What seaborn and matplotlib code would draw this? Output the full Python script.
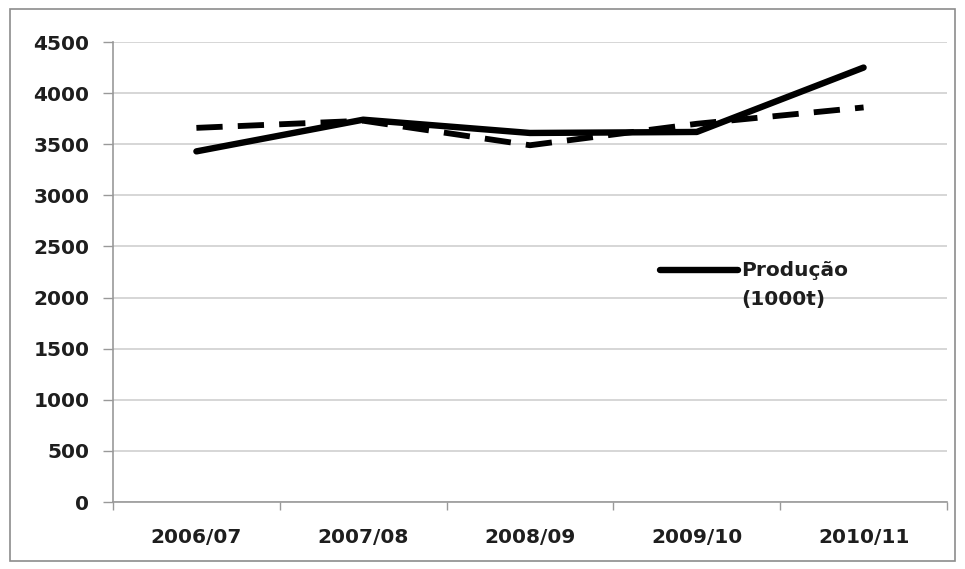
import matplotlib
matplotlib.use("Agg")
import matplotlib.pyplot as plt
import seaborn as sns
import pandas as pd
from matplotlib.patches import Rectangle
from matplotlib.lines import Line2D

safras = ["2006/07", "2007/08", "2008/09", "2009/10", "2010/11"]
producao = [3430, 3740, 3610, 3620, 4250]
consumo = [3660, 3730, 3490, 3700, 3860]
yticks = [0, 500, 1000, 1500, 2000, 2500, 3000, 3500, 4000, 4500]

sns.set_theme(style="white")
plt.rcParams["font.family"] = ["DejaVu Sans"]

FS = 14.5
TXT = "#1e1e1e"

df = pd.DataFrame({"pos": range(len(safras)), "safra": safras,
                   "producao": producao, "consumo": consumo})

fig = plt.figure(figsize=(9.65, 5.69), dpi=100)
ax = fig.add_axes([113 / 965, 1 - 502 / 569, (947 - 113) / 965, (502 - 42) / 569])

sns.lineplot(data=df, x="pos", y="consumo", ax=ax, color="black", lw=4.2,
             dashes=False, linestyle=(0, (4.5, 2.6)), legend=False)
sns.lineplot(data=df, x="pos", y="producao", ax=ax, color="black", lw=4.6,
             legend=False)

ax.set_xlim(-0.5, len(safras) - 0.5)
ax.set_ylim(0, 4500)
ax.set_yticks(yticks)
ax.set_yticklabels([str(v) for v in yticks], fontsize=FS, fontweight="bold",
                   color=TXT)
ax.yaxis.grid(True, color="#cfcfcf", lw=1.2)
ax.set_axisbelow(True)

# category labels centred, tick marks between categories
ax.set_xticks([i - 0.5 for i in range(len(safras) + 1)])
ax.set_xticklabels([])
ax.set_xticks(range(len(safras)), minor=True)
ax.set_xticklabels(safras, minor=True, fontsize=FS, fontweight="bold",
                   color=TXT)
ax.tick_params(axis="x", which="major", direction="out", length=6, width=1,
               color="#999999", bottom=True)
ax.tick_params(axis="x", which="minor", length=0, pad=19)
ax.tick_params(axis="y", direction="out", length=7, width=1, color="#999999",
               left=True, pad=10)
ax.set_xlabel("")
ax.set_ylabel("")

for side in ["top", "right"]:
    ax.spines[side].set_visible(False)
for side in ["left", "bottom"]:
    ax.spines[side].set_color("#999999")
    ax.spines[side].set_linewidth(1.2)

# legend entry for production only
def ax_xy(px, py):
    return (px - 113) / 834, (502 - py) / 460

x0, y0 = ax_xy(660, 270)
x1, _ = ax_xy(738, 270)
ax.add_line(Line2D([x0, x1], [y0, y0], transform=ax.transAxes, color="black",
                   lw=4.6, solid_capstyle="round", clip_on=False))
tx, _ = ax_xy(741, 270)
ax.text(tx, y0, "Produção", transform=ax.transAxes, fontsize=FS,
        fontweight="bold", color=TXT, va="center", ha="left")
_, ty = ax_xy(741, 300)
ax.text(tx, ty, "(1000t)", transform=ax.transAxes, fontsize=FS,
        fontweight="bold", color=TXT, va="center", ha="left")

# outer chart frame
fig.patches.append(Rectangle((10 / 965, 8 / 569), 945 / 965, 552 / 569,
                             transform=fig.transFigure, fill=False,
                             edgecolor="#8c8c8c", lw=1.2))

fig.savefig("out.png", dpi=100)
